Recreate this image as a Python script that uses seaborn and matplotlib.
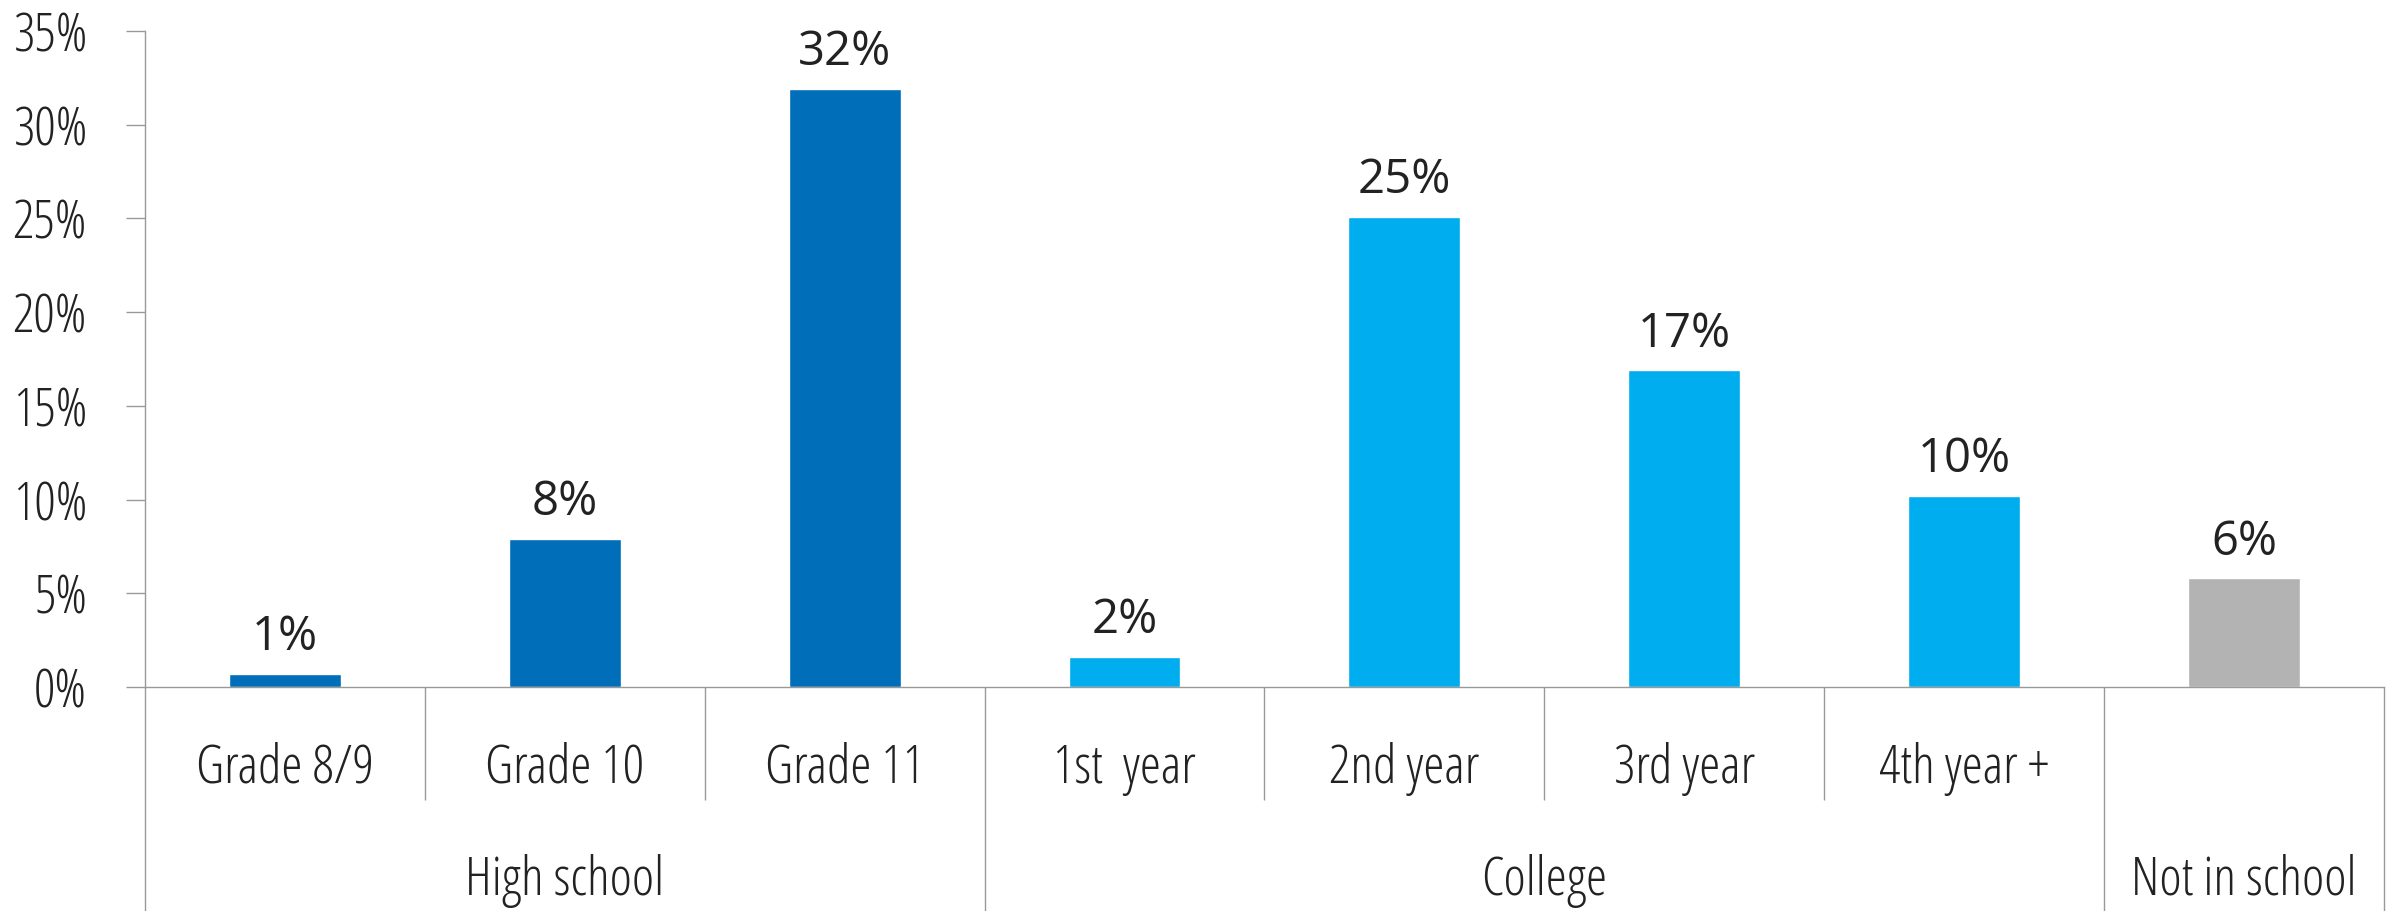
import matplotlib
matplotlib.use("Agg")
import matplotlib.pyplot as plt
import matplotlib.transforms as mtransforms
from matplotlib import font_manager
import pandas as pd
import seaborn as sns

# Share of respondents by school level
levels = ["Grade 8/9", "Grade 10", "Grade 11", "1st  year", "2nd year",
          "3rd year", "4th year +", "Not in school"]
level_labels = ["Grade 8/9", "Grade 10", "Grade 11", "1st  year", "2nd year",
                "3rd year", "4th year +", ""]
groups = ["High school", "High school", "High school", "College", "College",
          "College", "College", "Not in school"]
group_names = ["High school", "College", "Not in school"]
shares = [0.7, 7.9, 31.9, 1.6, 25.1, 16.9, 10.2, 5.8]
y_ticks = [0, 5, 10, 15, 20, 25, 30, 35]

group_colors = {"High school": "#006EB9", "College": "#00AEEF",
                "Not in school": "#B3B3B3"}

sns.set_theme(style="white")
plt.rcParams["font.family"] = ["Open Sans", "DejaVu Sans"]


def condensed_light(size):
    """Open Sans Condensed Light if present, else regular Open Sans."""
    for f in font_manager.fontManager.ttflist:
        if f.fname.endswith("OpenSans-CondLight.ttf"):
            return font_manager.FontProperties(fname=f.fname, size=size)
    return font_manager.FontProperties(family=["Open Sans", "DejaVu Sans"],
                                       stretch="condensed", weight="light", size=size)


axis_font = condensed_light(38.5)

df = pd.DataFrame({"level": levels, "share": shares, "group": groups})

fig = plt.figure(figsize=(23.95, 9.11), dpi=100)
ax = fig.add_axes([0.0605, 0.2459, 0.9349, 0.7201])

sns.barplot(data=df, x="level", y="share", hue="group", palette=group_colors,
            dodge=False, width=0.4, saturation=1, legend=False, ax=ax)

axis_grey = "#999999"
text_col = "#222222"

ax.set_xlim(-0.5, len(levels) - 0.5)
ax.set_ylim(0, 35)
ax.set_yticks(y_ticks)
ax.set_yticklabels([f"{t}%" for t in y_ticks], fontproperties=axis_font,
                   color=text_col)
ax.set_xticks([])
ax.set_xlabel("")
ax.set_ylabel("")
ax.tick_params(axis="y", direction="out", length=13.7, width=1.0,
               color=axis_grey, pad=28, left=True)

for side in ("top", "right"):
    ax.spines[side].set_visible(False)
for side in ("left", "bottom"):
    ax.spines[side].set_color(axis_grey)
    ax.spines[side].set_linewidth(1.0)

# Value labels above bars
for i, v in enumerate(shares):
    ax.annotate(f"{round(v)}%", (i, v), xytext=(0, 17), textcoords="offset points",
                ha="center", va="baseline", fontsize=34, color=text_col,
                family=["Open Sans", "DejaVu Sans"])

# Two-level category axis below the plot
trans = mtransforms.blended_transform_factory(ax.transData, ax.transAxes)
bottom_fig = -0.3415
inner_bottom = -0.172
group_edges = [-0.5, 2.5, 6.5, 7.5]
inner_edges = [0.5, 1.5, 3.5, 4.5, 5.5]
ax.vlines(group_edges, bottom_fig, 0, transform=trans, colors=axis_grey,
          linewidth=1.0, clip_on=False)
ax.vlines(inner_edges, inner_bottom, 0, transform=trans, colors=axis_grey,
          linewidth=1.0, clip_on=False)

for i, lab in enumerate(level_labels):
    ax.text(i, -0.146, lab, transform=trans, ha="center", va="baseline",
            fontproperties=axis_font, color=text_col)

for name, lo, hi in zip(group_names, group_edges[:-1], group_edges[1:]):
    ax.text((lo + hi) / 2, -0.317, name, transform=trans, ha="center",
            va="baseline", fontproperties=axis_font, color=text_col)

fig.savefig("out.png", dpi=100)
